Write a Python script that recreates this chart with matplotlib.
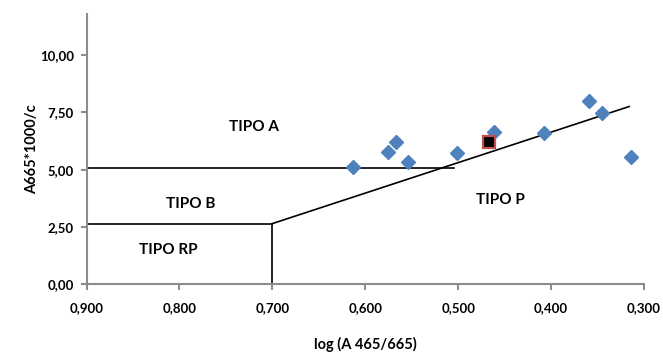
import matplotlib.pyplot as plt
from matplotlib.ticker import FuncFormatter

# sample points (log A465/665, A665*1000/c)
log_ratio = [0.613, 0.576, 0.567, 0.554, 0.501, 0.461, 0.408, 0.359, 0.345, 0.314]
a665 = [5.14, 5.76, 6.20, 5.35, 5.72, 6.66, 6.62, 8.00, 7.49, 5.55]

# highlighted sample
hl_x = [0.467]
hl_y = [6.23]

# boundary lines between humic types
line_a_x = [0.900, 0.505]
line_a_y = [5.08, 5.08]
line_b_x = [0.900, 0.700]
line_b_y = [2.62, 2.62]
line_rp_x = [0.700, 0.700]
line_rp_y = [0.0, 2.65]
line_p_x = [0.700, 0.316]
line_p_y = [2.65, 7.76]

regions = ["TIPO A", "TIPO B", "TIPO RP", "TIPO P"]
region_x = [0.720, 0.788, 0.812, 0.454]
region_y = [6.87, 3.50, 1.50, 3.68]

plt.rcParams['font.family'] = ['Lato', 'DejaVu Sans']

fig = plt.figure(figsize=(6.63, 3.56), dpi=100)
ax = fig.add_axes([0.1305, 0.2014, 0.9713 - 0.1305, 0.9607 - 0.2014])

for xs, ys in [(line_a_x, line_a_y), (line_b_x, line_b_y),
               (line_rp_x, line_rp_y), (line_p_x, line_p_y)]:
    ax.plot(xs, ys, color='black', lw=1.2, zorder=2)

ax.plot(log_ratio, a665, 'D', color='#4F81BD', ms=7.5, mec='#4F81BD', zorder=3)
ax.plot(hl_x, hl_y, 's', color='black', ms=8, mec='#C0504D', mew=1.6, zorder=4)

for label, x, y in zip(regions, region_x, region_y):
    ax.text(x, y, label, ha='center', va='center', fontsize=11,
            fontweight='bold')

ax.set_xlim(0.9, 0.3)
ax.set_ylim(0, 11.8)
ax.set_xticks([0.9, 0.8, 0.7, 0.6, 0.5, 0.4, 0.3])
ax.set_yticks([0, 2.5, 5, 7.5, 10])
ax.xaxis.set_major_formatter(FuncFormatter(lambda v, p: f"{v:.3f}".replace('.', ',')))
ax.yaxis.set_major_formatter(FuncFormatter(lambda v, p: f"{v:.2f}".replace('.', ',')))

for s in ['top', 'right']:
    ax.spines[s].set_visible(False)
for s in ['left', 'bottom']:
    ax.spines[s].set_color('#8C8C8C')
    ax.spines[s].set_linewidth(1.5)
ax.tick_params(color='#8C8C8C', width=1.5, length=4, labelsize=9.5)
ax.tick_params(axis='x', pad=9)
ax.tick_params(axis='y', pad=5)
for lab in ax.get_xticklabels() + ax.get_yticklabels():
    lab.set_fontweight('bold')

ax.set_xlabel("log (A 465/665)", fontsize=10.5, fontweight='bold', labelpad=16)
ax.set_ylabel("A665*1000/c", fontsize=10.5, fontweight='bold', labelpad=1)

fig.savefig("out.png", dpi=100)
